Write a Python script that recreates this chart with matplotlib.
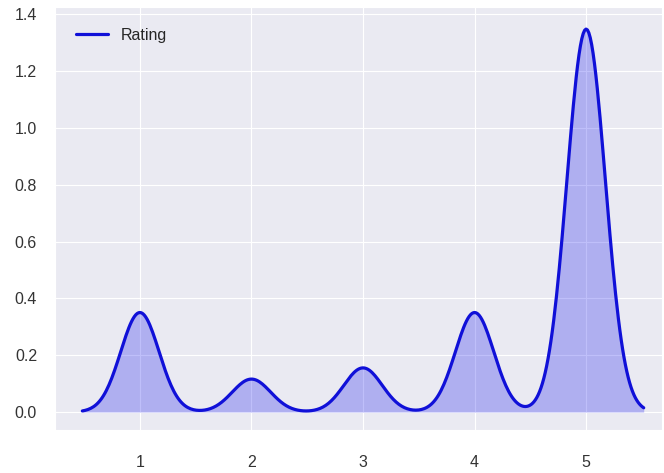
import numpy as np
import matplotlib
matplotlib.use("Agg")
import matplotlib.pyplot as plt
import seaborn as sns

ratings = [1, 2, 3, 4, 5]
shares = [0.151, 0.050, 0.067, 0.151, 0.581]
bandwidth = 0.172

sns.set_style("darkgrid")
plt.rcParams['font.family'] = ['Liberation Sans', 'DejaVu Sans']

# gaussian kde built from the weighted ratings, cut = 3 bandwidths
xs = np.linspace(min(ratings) - 3 * bandwidth, max(ratings) + 3 * bandwidth, 400)
density = np.zeros_like(xs)
for r, w in zip(ratings, shares):
    density += w * np.exp(-0.5 * ((xs - r) / bandwidth) ** 2) / (bandwidth * np.sqrt(2 * np.pi))

fig = plt.figure(figsize=(6.64, 4.73), dpi=100)
ax = fig.add_axes([0.083, 0.091, 0.914, 0.894])
ax.fill_between(xs, 0, density, color="#0000ee", alpha=0.25, linewidth=0)
ax.plot(xs, density, color="#1010d8", linewidth=2.3, label="Rating")

ax.set_xlim(0.24, 5.68)
ax.set_ylim(-0.063, 1.425)
ax.set_xticks(ratings)
ax.set_yticks(np.arange(0, 1.41, 0.2))
ax.yaxis.set_major_formatter(matplotlib.ticker.FormatStrFormatter('%.1f'))
ax.tick_params(axis='both', length=4, width=1.2, color='#333333', labelsize=11.5, labelcolor='#333333')
ax.tick_params(axis='x', pad=14)
ax.tick_params(axis='y', pad=9)
ax.legend(loc='upper left', frameon=False, fontsize=11.5, borderaxespad=0.9)

fig.savefig("out.png", dpi=100)
